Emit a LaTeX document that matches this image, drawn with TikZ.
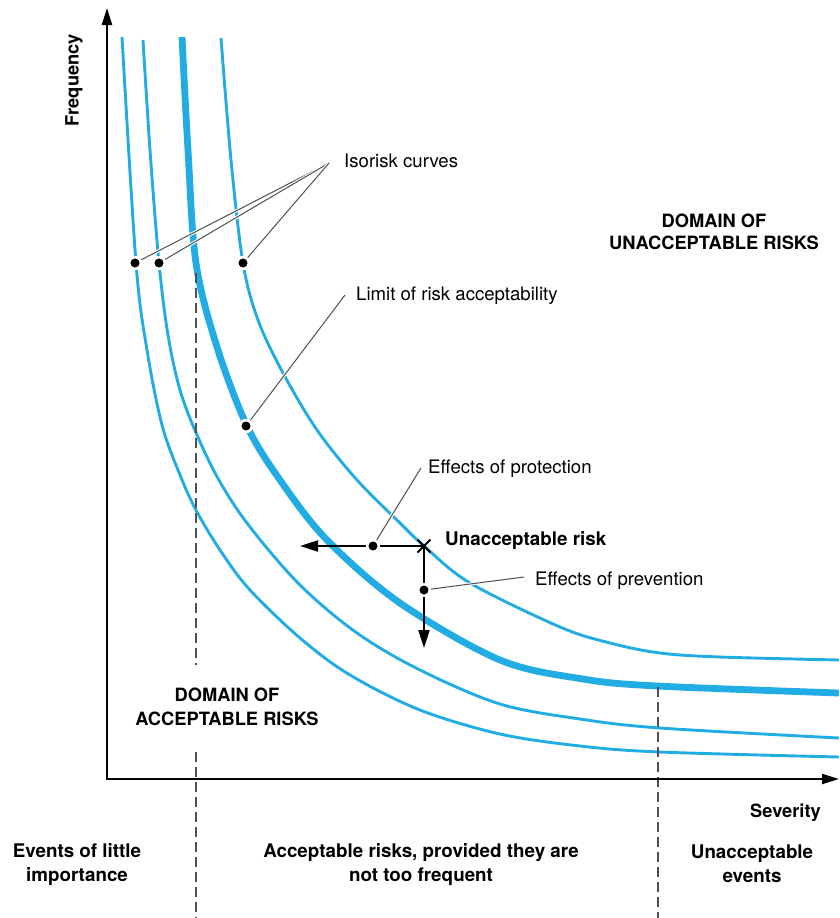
\documentclass[tikz,border=0pt]{standalone}
\usepackage{fontspec}
\setmainfont{TeX Gyre Heros}
\usepackage{tikz}
\usetikzlibrary{arrows.meta,shapes.misc,positioning}
\definecolor{isoblue}{RGB}{33,172,228}
\definecolor{leadgray}{RGB}{80,80,80}
\tikzstyle{isorisk}=[draw=isoblue,line width=2.9pt]
\tikzstyle{limit curve}=[isorisk,line width=6.8pt]
\tikzstyle{axis}=[-{Triangle[length=17pt,width=10pt]},line width=2.2pt,black]
\tikzstyle{effect}=[-{Triangle[length=18pt,width=11pt]},line width=2pt,black]
\tikzstyle{divider}=[dash pattern=on 10pt off 5pt,line width=1.3pt,leadgray]
\tikzstyle{leader}=[leadgray,line width=1pt,preaction={draw=white,line width=3pt}]
\tikzstyle{dot}=[circle,fill=black,draw=white,line width=2.5pt,minimum size=11.5pt,inner sep=0pt]
\tikzstyle{note}=[inner sep=0pt,font=\fontsize{18.6}{22}\selectfont]
\tikzstyle{heading}=[inner sep=0pt,align=center,font=\fontsize{18.3}{24}\selectfont\bfseries]
\tikzstyle{band}=[heading,font=\fontsize{18.8}{24}\selectfont\bfseries]

\begin{document}
\begin{tikzpicture}[x=1pt,y=-1pt]
\useasboundingbox (0,0) rectangle (839,918);
\def\axisx{107}
\def\axisy{779}

	% Isorisk curves
    \draw[isorisk] plot[smooth,tension=0.55] coordinates {(122,37) (136,263) (147,350) (162,425) (180,475) (197,512) (222,553) (250,590) (300,638) (350,675) (420,710) (500,734) (580,746) (660,752) (839,757)};
    \draw[isorisk] plot[smooth,tension=0.55] coordinates {(143,40) (150,150) (159,263) (168,335) (180,390) (197,435) (220,482) (250,527) (300,585) (357,633) (420,670) (500,704) (580,719) (660,728) (839,738)};
    \draw[limit curve] plot[smooth,tension=0.55] coordinates {(182,37) (188,150) (196,263) (217,347) (247,426) (280,480) (327,540) (400,603) (500,660) (583,679) (657,686) (839,693)};
    \draw[isorisk] plot[smooth,tension=0.55] coordinates {(221,38) (231,160) (243,263) (258,320) (283,373) (317,430) (357,480) (400,523) (424,546) (470,583) (560,627) (610,643) (660,653) (720,657) (839,660)};

	% Dividers
    \coordinate (L1) at (196,273);
    \coordinate (L2) at (196,665);
    \coordinate (L3) at (196,752);
    \coordinate (L4) at (196,918);
    \coordinate (R1) at (658,687);
    \coordinate (R2) at (658,918);
    \draw[divider] (L1) -- (L2);
    \draw[divider] (L3) -- (L4);
    \draw[divider] (R1) -- (R2);

	% Axes
    \coordinate (O) at (\axisx,\axisy);
    \coordinate (ytip) at (\axisx,8);
    \coordinate (xtip) at (839,\axisy);
    \draw[axis] (O) -- (ytip);
    \draw[axis] ([xshift=-1.1pt]O) -- (xtip);
    \node[heading, rotate=90] (freq) at (74,80) {Frequency};
    \node[heading, anchor=base east] (sev) at (821,817) {Severity};

	% Unacceptable risk and its reductions
    \node[draw, cross out, line width=2pt, minimum size=11pt, inner sep=0pt] (risk) at (424,546) {};
    \coordinate (protTip) at (300,546);
    \coordinate (prevTip) at (424,648);
    \draw[effect] (risk.center) -- (protTip);
    \draw[effect] (risk.center) -- (prevTip);
    \node[band, anchor=base west] (riskLbl) at (445,545) {Unacceptable risk};

	% Leaders
    \foreach \name / \x in {A/135,B/159,D/243}
        \node[dot] (d\name) at (\x,263) {};
    \node[dot] (dLim) at (246,426) {};
    \node[dot] (dProt) at (373,546) {};
    \node[dot] (dPrev) at (424,590) {};

    \node[note, anchor=base west] (iso) at (344,167) {Isorisk curves};
    \node[note, anchor=base west] (lim) at (356,300) {Limit of risk acceptability};
    \node[note, anchor=base west] (prot) at (428,473) {Effects of protection};
    \node[note, anchor=base west] (prev) at (535,585) {Effects of prevention};

    \coordinate (isoEnd) at (329,163);
    \coordinate (limEnd) at (345,295);
    \coordinate (protEnd) at (421,468);
    \coordinate (prevEnd) at (524,577);

    \foreach \source in {A,B,D}
        \draw[leader] (d\source) -- (isoEnd);
    \draw[leader] (dLim) -- (limEnd);
    \draw[leader] (dProt) -- (protEnd);
    \draw[leader] (dPrev) -- (prevEnd);
    % dots again on top of the halos
    \foreach \name / \x in {A/135,B/159,D/243}
        \node[dot] at (d\name) {};
    \node[dot] at (dLim) {};
    \node[dot] at (dProt) {};
    \node[dot] at (dPrev) {};

	% Domains
    \node[heading, anchor=north, font=\fontsize{18.3}{22}\selectfont\bfseries] (unacc) at (714,214) {DOMAIN OF\\UNACCEPTABLE RISKS};
    \node[heading, anchor=north] (acc) at (227,688) {DOMAIN OF\\ACCEPTABLE RISKS};

	% Bands below the axis
    \node[band, anchor=north] (little) at (77,843) {Events of little\\importance};
    \node[band, anchor=north] (proviso) at (421,843) {Acceptable risks, provided they are\\not too frequent};
    \node[band, anchor=north] (events) at (752,845) {Unacceptable\\events};

\end{tikzpicture}
\end{document}
